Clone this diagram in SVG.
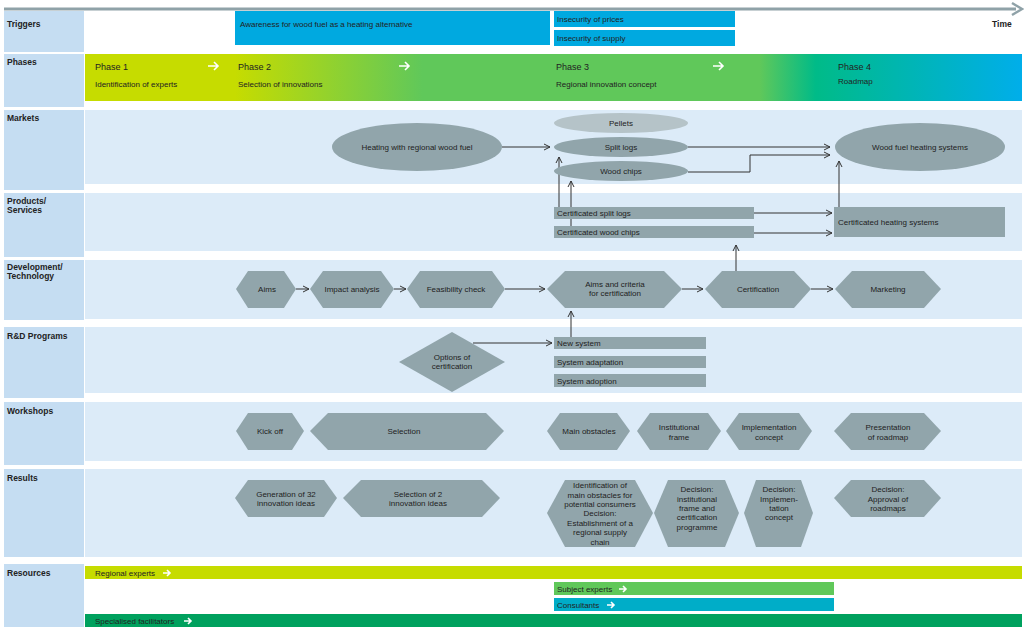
<svg xmlns="http://www.w3.org/2000/svg" width="1024" height="630" viewBox="0 0 1024 630">
<defs>
<linearGradient id="ph" x1="85" y1="0" x2="1022" y2="0" gradientUnits="userSpaceOnUse">
<stop offset="0" stop-color="#c6dc00"/><stop offset="0.16" stop-color="#c6dc00"/><stop offset="0.36" stop-color="#60c85a"/><stop offset="0.72" stop-color="#60c85a"/><stop offset="0.78" stop-color="#00bb88"/><stop offset="1" stop-color="#00aeea"/>
</linearGradient>
<marker id="a" viewBox="0 0 8 8" refX="7" refY="4" markerWidth="8" markerHeight="8" markerUnits="userSpaceOnUse" orient="auto"><path d="M1,1 L7,4 L1,7" fill="none" stroke="#333" stroke-width="1"/></marker>
</defs>
<style>
.lab{fill:#c5ddf2}.bg{fill:#dcebf8}
.lt{font-family:"Liberation Sans",Arial,sans-serif;font-size:8.5px;font-weight:bold;fill:#222}
.t{font-family:"Liberation Sans",Arial,sans-serif;font-size:8px;fill:#222;text-anchor:middle}
.tl{font-family:"Liberation Sans",Arial,sans-serif;font-size:8px;fill:#222}
.n{fill:#91a5ab}
.c{fill:none;stroke:#333;stroke-width:1;marker-end:url(#a)}
.w{fill:none;stroke:#fff;stroke-width:1.6}
</style>
<rect width="1024" height="630" fill="#fff"/>
<g id="timeline"><line x1="4" y1="9" x2="1016" y2="9" stroke="#8fa2a8" stroke-width="3"/><path d="M1012,3 L1022,9 L1012,15" fill="none" stroke="#8fa2a8" stroke-width="2.5"/><text x="992" y="27" class="lt">Time</text></g>
<g id="lanes">
<rect x="4" y="11" width="80" height="41" class="lab"/>
<rect x="4" y="54" width="80" height="53" class="lab"/>
<rect x="4" y="110" width="80" height="80" class="lab"/><rect x="85" y="110" width="937" height="74" class="bg"/>
<rect x="4" y="193" width="80" height="64" class="lab"/><rect x="85" y="193" width="937" height="58" class="bg"/>
<rect x="4" y="260" width="80" height="60" class="lab"/><rect x="85" y="260" width="937" height="59" class="bg"/>
<rect x="4" y="327" width="80" height="71" class="lab"/><rect x="85" y="327" width="937" height="66" class="bg"/>
<rect x="4" y="402" width="80" height="63" class="lab"/><rect x="85" y="402" width="937" height="59" class="bg"/>
<rect x="4" y="469" width="80" height="88" class="lab"/><rect x="85" y="469" width="937" height="88" class="bg"/>
<rect x="4" y="564" width="80" height="63" class="lab"/>
<text x="7" y="27" class="lt">Triggers</text>
<text x="7" y="65" class="lt">Phases</text>
<text x="7" y="121" class="lt">Markets</text>
<text x="7" y="204" class="lt">Products/</text><text x="7" y="213" class="lt">Services</text>
<text x="7" y="270" class="lt">Development/</text><text x="7" y="279" class="lt">Technology</text>
<text x="7" y="339" class="lt">R&amp;D Programs</text>
<text x="7" y="414" class="lt">Workshops</text>
<text x="7" y="481" class="lt">Results</text>
<text x="7" y="576" class="lt">Resources</text>
</g>
<g id="triggers">
<rect x="235" y="11" width="315" height="34" fill="#00a9e0"/><text x="240" y="27" class="tl">Awareness for wood fuel as a heating alternative</text>
<rect x="554" y="11" width="181" height="16" fill="#00a9e0"/><text x="557" y="22" class="tl">Insecurity of prices</text>
<rect x="554" y="30" width="181" height="16" fill="#00a9e0"/><text x="557" y="41" class="tl">Insecurity of supply</text>
</g>
<g id="phases">
<rect x="85" y="54" width="937" height="47" fill="url(#ph)"/>
<g class="tl" font-size="9"><text x="95" y="70" font-size="9">Phase 1</text><text x="238" y="70" font-size="9">Phase 2</text><text x="556" y="70" font-size="9">Phase 3</text><text x="838" y="70" font-size="9">Phase 4</text></g>
<text x="95" y="87" class="tl">Identification of experts</text><text x="238" y="87" class="tl">Selection of innovations</text><text x="556" y="87" class="tl">Regional innovation concept</text><text x="838" y="84" class="tl">Roadmap</text>
<path class="w" d="M208,66 h10 M214,62 l4,4 l-4,4"/><path class="w" d="M399,66 h10 M405,62 l4,4 l-4,4"/><path class="w" d="M713,66 h10 M719,62 l4,4 l-4,4"/>
</g>
<g id="connectors">
<path class="c" d="M502,147 H550"/>
<path class="c" d="M688,147 H830"/>
<path class="c" d="M688,172 H750 V155 H830"/>
<path class="c" d="M559,207 V157"/>
<path class="c" d="M571,226 V181"/>
<path class="c" d="M754,213 H832"/>
<path class="c" d="M754,233 H832"/>
<path class="c" d="M839,207 V161"/>
<path class="c" d="M296,289 H309"/><path class="c" d="M394,289 H406"/><path class="c" d="M505,289 H545"/><path class="c" d="M682,289 H703"/><path class="c" d="M811,289 H833"/>
<path class="c" d="M736,271 V245"/>
<path class="c" d="M571,337 V311"/>
<path class="c" d="M473,343 H552"/>
</g>
<g id="n-heating"><ellipse cx="417" cy="147" rx="85" ry="24" class="n"/><text x="417" y="150" class="t">Heating with regional wood fuel</text></g>
<g id="n-pellets"><ellipse cx="621" cy="123" rx="67" ry="10" fill="#b5c3c8"/><text x="621" y="126" class="t">Pellets</text></g>
<g id="n-split"><ellipse cx="621" cy="147" rx="67" ry="10" class="n"/><text x="621" y="150" class="t">Split logs</text></g>
<g id="n-chips"><ellipse cx="621" cy="171" rx="67" ry="10" class="n"/><text x="621" y="174" class="t">Wood chips</text></g>
<g id="n-wfhs"><ellipse cx="920" cy="147" rx="85" ry="24" class="n"/><text x="920" y="150" class="t">Wood fuel heating systems</text></g>
<g id="n-csl"><rect x="554" y="207" width="200" height="12" class="n"/><text x="557" y="216" class="tl">Certificated split logs</text></g>
<g id="n-cwc"><rect x="554" y="226" width="200" height="12" class="n"/><text x="557" y="235" class="tl">Certificated wood chips</text></g>
<g id="n-chs"><rect x="834" y="207" width="171" height="30" class="n"/><text x="838" y="225" class="tl">Certificated heating systems</text></g>
<g id="n-aims"><polygon points="236,289 248,271 284,271 296,289 284,308 248,308" class="n"/><text x="267" y="292" class="t">Aims</text></g>
<g id="n-impact"><polygon points="310,289 323,271 381,271 394,289 381,308 323,308" class="n"/><text x="352" y="292" class="t">Impact analysis</text></g>
<g id="n-feas"><polygon points="407,289 420,271 492,271 505,289 492,308 420,308" class="n"/><text x="456" y="292" class="t">Feasibility check</text></g>
<g id="n-aimscrit"><polygon points="547,289 565,271 664,271 682,289 664,308 565,308" class="n"/><text x="615" y="287" class="t">Aims and criteria</text><text x="615" y="296" class="t">for certification</text></g>
<g id="n-cert"><polygon points="705,289 722,271 794,271 811,289 794,308 722,308" class="n"/><text x="758" y="292" class="t">Certification</text></g>
<g id="n-mkt"><polygon points="835,289 852,271 924,271 941,289 924,308 852,308" class="n"/><text x="888" y="292" class="t">Marketing</text></g>
<g id="n-options"><polygon points="399,362 452,332 505,362 452,392" class="n"/><text x="452" y="360" class="t">Options of</text><text x="452" y="369" class="t">certification</text></g>
<g id="n-new"><rect x="554" y="337" width="152" height="12" class="n"/><text x="557" y="346" class="tl">New system</text></g>
<g id="n-adapt"><rect x="554" y="356" width="152" height="12" class="n"/><text x="557" y="365" class="tl">System adaptation</text></g>
<g id="n-adopt"><rect x="554" y="374" width="152" height="13" class="n"/><text x="557" y="384" class="tl">System adoption</text></g>
<g id="n-kick"><polygon points="236,431 248,413 292,413 304,431 292,450 248,450" class="n"/><text x="270" y="434" class="t">Kick off</text></g>
<g id="n-sel"><polygon points="310,431 328,413 486,413 504,431 486,450 328,450" class="n"/><text x="404" y="434" class="t">Selection</text></g>
<g id="n-obst"><polygon points="547,431 560,413 617,413 630,431 617,450 560,450" class="n"/><text x="589" y="434" class="t">Main obstacles</text></g>
<g id="n-inst"><polygon points="637,431 650,413 708,413 721,431 708,450 650,450" class="n"/><text x="679" y="430" class="t">Institutional</text><text x="679" y="440" class="t">frame</text></g>
<g id="n-impl"><polygon points="726,431 739,413 799,413 812,431 799,450 739,450" class="n"/><text x="769" y="430" class="t">Implementation</text><text x="769" y="440" class="t">concept</text></g>
<g id="n-pres"><polygon points="834,431 851,413 924,413 941,431 924,450 851,450" class="n"/><text x="888" y="430" class="t">Presentation</text><text x="888" y="440" class="t">of roadmap</text></g>
<g id="n-gen"><polygon points="235,498 248,480 324,480 337,498 324,517 248,517" class="n"/><text x="286" y="497" class="t">Generation of 32</text><text x="286" y="506" class="t">innovation ideas</text></g>
<g id="n-sel2"><polygon points="343,498 361,480 482,480 500,498 482,517 361,517" class="n"/><text x="418" y="497" class="t">Selection of 2</text><text x="418" y="506" class="t">innovation ideas</text></g>
<g id="n-ident"><polygon points="547,513 565,480 635,480 653,513 635,547 565,547" class="n"/><text x="600" y="488" class="t">Identification of</text><text x="600" y="498" class="t">main obstacles for</text><text x="600" y="507" class="t">potential consumers</text><text x="600" y="516" class="t">Decision:</text><text x="600" y="526" class="t">Establishment of a</text><text x="600" y="535" class="t">regional supply</text><text x="600" y="545" class="t">chain</text></g>
<g id="n-dinst"><polygon points="654,513 668,480 725,480 739,513 725,547 668,547" class="n"/><text x="697" y="492" class="t">Decision:</text><text x="697" y="502" class="t">institutional</text><text x="697" y="511" class="t">frame and</text><text x="697" y="520" class="t">certification</text><text x="697" y="530" class="t">programme</text></g>
<g id="n-dimpl"><polygon points="744,513 756,480 801,480 813,513 801,547 756,547" class="n"/><text x="779" y="492" class="t">Decision:</text><text x="779" y="502" class="t">Implemen-</text><text x="779" y="511" class="t">tation</text><text x="779" y="520" class="t">concept</text></g>
<g id="n-appr"><polygon points="834,498 851,480 924,480 941,498 924,517 851,517" class="n"/><text x="888" y="492" class="t">Decision:</text><text x="888" y="502" class="t">Approval of</text><text x="888" y="511" class="t">roadmaps</text></g>
<g id="resources">
<rect x="85" y="566" width="937" height="13" fill="#c6dc00"/><text x="95" y="576" class="tl">Regional experts</text><path class="w" d="M163,573 h7 M167,570 l3,3 l-3,3"/>
<rect x="554" y="582" width="280" height="13" fill="#60c85a"/><text x="557" y="592" class="tl">Subject experts</text><path class="w" d="M619,589 h7 M623,586 l3,3 l-3,3"/>
<rect x="554" y="598" width="280" height="13" fill="#00adc8"/><text x="557" y="608" class="tl">Consultants</text><path class="w" d="M607,605 h7 M611,602 l3,3 l-3,3"/>
<rect x="85" y="614" width="937" height="13" fill="#00a15e"/><text x="95" y="624" class="tl">Specialised facilitators</text><path class="w" d="M184,621 h7 M188,618 l3,3 l-3,3"/>
</g>
</svg>
